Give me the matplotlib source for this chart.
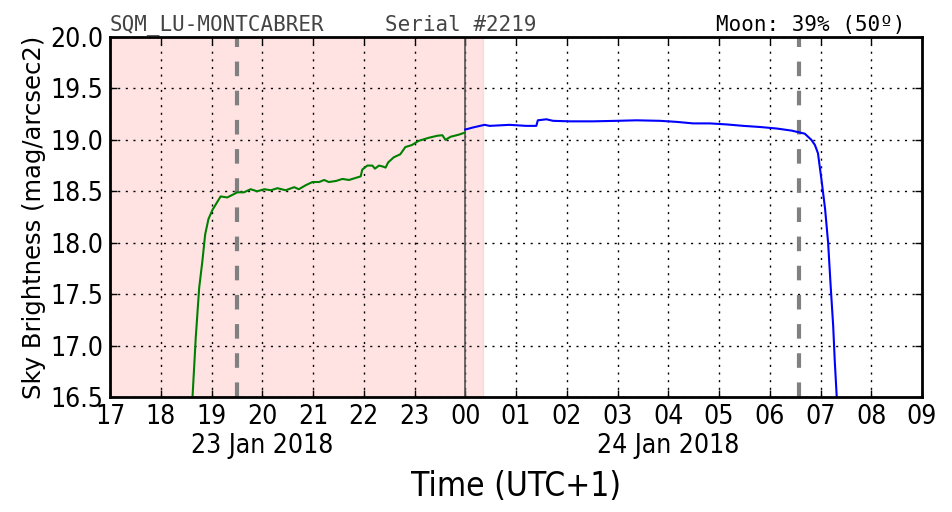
import matplotlib
matplotlib.use("Agg")
import matplotlib.pyplot as plt
from matplotlib.ticker import FuncFormatter, MultipleLocator

# Sky brightness readings, x = clock hours since 00:00 on 23 Jan 2018 (UTC+1)
green_t = [18.626, 18.69, 18.757, 18.82, 18.875, 18.94, 19.02, 19.18, 19.31,
           19.51, 19.64, 19.77, 19.90, 20.04, 20.17, 20.30, 20.46, 20.63,
           20.72, 20.86, 20.99, 21.12, 21.22, 21.31, 21.45, 21.58, 21.71,
           21.84, 21.94, 21.97, 22.07, 22.17, 22.22, 22.30, 22.38, 22.43,
           22.48, 22.59, 22.72, 22.82, 22.95, 23.08, 23.28, 23.45, 23.55,
           23.61, 23.71, 23.87, 23.99]
green_v = [16.5, 17.08, 17.56, 17.82, 18.08, 18.23, 18.32, 18.45, 18.44,
           18.49, 18.49, 18.52, 18.50, 18.52, 18.51, 18.53, 18.51, 18.54,
           18.52, 18.56, 18.59, 18.59, 18.61, 18.59, 18.60, 18.62, 18.61,
           18.63, 18.645, 18.71, 18.75, 18.75, 18.72, 18.75, 18.74, 18.73,
           18.78, 18.83, 18.86, 18.93, 18.95, 18.99, 19.02, 19.04, 19.045,
           19.00, 19.03, 19.05, 19.07]
blue_t = [24.0, 24.15, 24.38, 24.48, 24.875, 25.2, 25.40, 25.43, 25.6,
          25.73, 26.06, 26.52, 26.98, 27.375, 27.84, 28.16, 28.49, 28.82,
          29.15, 29.48, 29.81, 30.14, 30.43, 30.69, 30.82, 30.89, 30.95,
          31.02, 31.09, 31.15, 31.20, 31.25, 31.28, 31.32]
blue_v = [19.10, 19.12, 19.146, 19.136, 19.146, 19.136, 19.136, 19.19, 19.20,
          19.185, 19.18, 19.18, 19.185, 19.19, 19.185, 19.175, 19.16, 19.16,
          19.15, 19.136, 19.125, 19.11, 19.09, 19.06, 19.0, 18.95, 18.87,
          18.61, 18.33, 18.0, 17.58, 17.19, 16.86, 16.5]

twilight = [19.5, 30.58]       # dashed grey lines
midnight = 24.0
shade = [17.0, 24.35]
date_labels = [(20.0, "23 Jan 2018"), (28.0, "24 Jan 2018")]

fig = plt.figure(figsize=(9.52, 5.12), dpi=100)
ax = fig.add_axes([110 / 952, 1 - 397 / 512, 812 / 952, 360 / 512])

ax.axvspan(shade[0], shade[1], color="red", alpha=0.11, lw=1)
ax.axvline(midnight, color="#555555", lw=1.2)
for t in twilight:
    ax.axvline(t, color="gray", lw=3, ls=(0, (3.5, 3.5)))

ax.plot(green_t, green_v, color="green", lw=1.5)
ax.plot(blue_t, blue_v, color="blue", lw=1.5)

ax.set_xlim(17, 33)
ax.set_ylim(16.5, 20.0)
ax.xaxis.set_major_locator(MultipleLocator(1))
ax.yaxis.set_major_locator(MultipleLocator(0.5))
ax.xaxis.set_major_formatter(FuncFormatter(lambda v, p: "%02d" % (int(round(v)) % 24)))
ax.yaxis.set_major_formatter(FuncFormatter(lambda v, p: "%.1f" % v))
ax.grid(True, color="black", ls=(0, (1.5, 4)), lw=1)
ax.tick_params(direction="in", length=5, width=1, top=True, right=True,
               labelsize=19, pad=5)
for lab in ax.get_xticklabels() + ax.get_yticklabels():
    lab.set_fontstretch("condensed")
for s in ax.spines.values():
    s.set_linewidth(2)

for x, txt in date_labels:
    ax.text(x, -0.135, txt, transform=ax.get_xaxis_transform(), ha="center",
            va="center", fontsize=19, fontstretch="condensed")
ax.set_xlabel("Time (UTC+1)", fontsize=24, labelpad=29, fontstretch="condensed")
ax.set_ylabel("Sky Brightness (mag/arcsec2)", fontsize=17.5, labelpad=3)

ax.text(0.0, 1.006, "SQM_LU-MONTCABRER", transform=ax.transAxes, family="DejaVu Sans Mono",
        fontsize=15, color="#444444", va="bottom")
ax.text(0.339, 1.006, "Serial #2219", transform=ax.transAxes, family="DejaVu Sans Mono",
        fontsize=15, color="#444444", va="bottom")
ax.text(0.98, 1.006, "Moon: 39% (50º)", transform=ax.transAxes, family="DejaVu Sans Mono",
        fontsize=15, color="black", va="bottom", ha="right")

fig.savefig("out.png", dpi=100)
